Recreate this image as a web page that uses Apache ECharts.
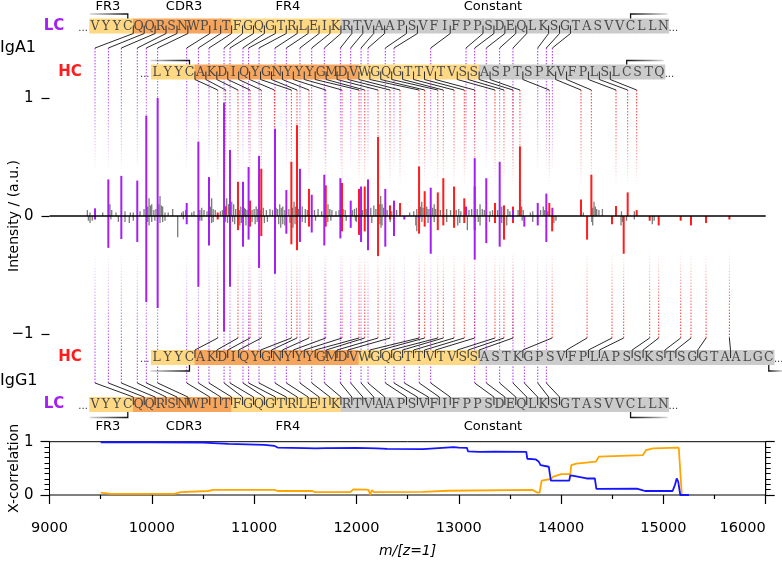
<!DOCTYPE html>
<html><head><meta charset="utf-8">
<script src="https://cdn.jsdelivr.net/npm/echarts@6/dist/echarts.min.js"></script>
<style>html,body{margin:0;padding:0;background:#fff}#c{width:782px;height:563px}</style>
</head><body><div id="c"></div><script>
// ---------------- DATA ----------------
const lcSeq  = 'VYYCQQRSNWPITFGQGTRLEIKRTVAAPSVFIFPPSDEQLKSGTASVVCLLN';
const hcSeqA = 'LYYCAKDIQYGNYYYGMDVWGQGTTVTVSSASPTSPKVFPLSLCSTQ';
const hcSeqG = 'LYYCAKDIQYGNYYYGMDVWGQGTTVTVSSASTKGPSVFPLAPSSKSTSGGTAALGC';
// region boundaries (first index of each region): FR3, CDR3, FR4, Constant
const lcRegionStarts = [0, 4, 13, 23];
const hcRegionStarts = [0, 4, 19, 30];
const regionNames = ['FR3', 'CDR3', 'FR4', 'Constant'];
const xTicks = [9000, 10000, 11000, 12000, 13000, 14000, 15000, 16000];

// [m/z, intensity, cleavage after residue index]
const lcTop = [[9445,0.065,3],[9575,0.31,4],[9702,0.34,5],[9858,0.30,6],[9946,0.85,7],[10057,1.0,8],[10341,0.11,10],[10455,0.63,11],[10559,0.33,12],[10706,0.96,13],[10764,0.56,14],[10891,0.29,15],[10946,0.415,16],[11048,0.51,17],[11204,0.74,18],[11315,0.22,19],[11448,0.40,20],[11563,0.18,21],[11686,0.35,22],[11843,0.32,23],[11944,0.13,24],[12045,0.25,25],[12113,0.31,26],[12282,0.23,28],[12367,0.13,29],[12726,0.24,32],[13071,0.08,35],[13156,0.49,36],[13269,0.32,37],[13400,0.46,38],[13530,0.05,39],[13772,0.11,41],[13856,0.19,42],[13915,0.07,43]];
const lcBot = [[9445,-0.03,3],[9575,-0.27,4],[9702,-0.195,5],[9858,-0.22,6],[9946,-0.73,7],[10057,-0.78,8],[10341,-0.07,10],[10455,-0.60,11],[10559,-0.25,12],[10706,-0.98,13],[10764,-0.60,14],[10891,-0.26,15],[10946,-0.20,16],[11048,-0.44,17],[11204,-0.49,18],[11315,-0.15,19],[11448,-0.22,20],[11563,-0.14,21],[11686,-0.25,22],[11843,-0.19,23],[11944,-0.10,24],[12045,-0.22,25],[12113,-0.29,26],[12282,-0.26,28],[12367,-0.17,29],[12468,-0.03,30],[12614,-0.02,31],[12726,-0.32,32],[13156,-0.37,36],[13269,-0.23,37],[13400,-0.26,38],[13530,-0.03,39],[13641,-0.09,40],[13772,-0.08,41],[13856,-0.22,42]];
const hcTop = [[10644,0.03,3],[10722,0.08,4],[10842,0.29,5],[10960,0.13,6],[11070,0.40,7],[11198,0.0,8],[11364,0.46,9],[11419,0.77,10],[11536,0.23,11],[11700,0.26,12],[11859,0.28,13],[12025,0.23,14],[12081,0.25,15],[12211,0.67,16],[12328,0.09,17],[12426,0.11,18],[12612,0.42,19],[12667,0.21,20],[12795,0.20,21],[12849,0.32,22],[12954,0.25,23],[13054,0.15,24],[13156,0.25,25],[13354,0.11,27],[13442,0.09,28],[13530,0.08,29],[13598,0.59,30],[13885,0.11,33],[14195,0.14,36],[14296,0.35,37],[14537,0.085,39],[14651,0.20,40],[14739,0.05,41]];
const hcBot = [[10644,-0.03,3],[10842,-0.12,5],[10960,-0.09,6],[11070,-0.17,7],[11364,-0.24,9],[11419,-0.29,10],[11536,-0.09,11],[11700,-0.09,12],[11859,-0.13,13],[12025,-0.16,14],[12081,-0.13,15],[12211,-0.34,16],[12328,-0.03,17],[12612,-0.15,19],[12667,-0.09,20],[12795,-0.12,21],[12849,-0.08,22],[12954,-0.10,23],[13054,-0.06,24],[13156,-0.12,25],[13354,-0.06,27],[13442,-0.20,28],[13530,-0.06,29],[13913,-0.13,33],[14254,-0.20,37],[14498,-0.07,39],[14612,-0.32,40],[14866,-0.04,43],[14954,-0.08,44],[15169,-0.04,46],[15270,-0.08,47],[15417,-0.06,49],[15645,-0.03,52]];
const noiseTop = [[9370,0.05],[9396,0.03],[9520,0.03],[9591,0.1],[9608,0.05],[9650,0.03],[9738,0.04],[9790,0.03],[9819,0.03],[9885,0.04],[9924,0.06],[9960,0.08],[9973,0.15],[9987,0.09],[9999,0.1],[10020,0.05],[10040,0.06],[10070,0.1],[10080,0.17],[10093,0.09],[10106,0.08],[10129,0.03],[10160,0.03],[10204,0.06],[10292,0.03],[10308,0.04],[10330,0.05],[10390,0.03],[10412,0.04],[10470,0.05],[10488,0.07],[10510,0.05],[10540,0.04],[10575,0.08],[10585,0.15],[10600,0.06],[10620,0.05],[10670,0.04],[10690,0.05],[10715,0.09],[10732,0.15],[10750,0.1],[10781,0.12],[10800,0.1],[10820,0.06],[10855,0.05],[10870,0.08],[10905,0.07],[10915,0.06],[10930,0.05],[10980,0.05],[11000,0.06],[11020,0.08],[11035,0.06],[11060,0.05],[11090,0.07],[11120,0.05],[11155,0.06],[11180,0.05],[11215,0.07],[11230,0.06],[11250,0.1],[11265,0.07],[11280,0.08],[11300,0.05],[11340,0.06],[11375,0.07],[11390,0.12],[11405,0.08],[11435,0.06],[11470,0.08],[11500,0.06],[11520,0.05],[11590,0.05],[11625,0.06],[11660,0.04],[11722,0.1],[11740,0.06],[11760,0.05],[11800,0.04],[11830,0.05],[11870,0.06],[11890,0.05],[11960,0.05],[11980,0.06],[12000,0.07],[12060,0.05],[12095,0.06],[12140,0.07],[12170,0.09],[12190,0.06],[12225,0.1],[12237,0.17],[12250,0.1],[12265,0.07],[12300,0.05],[12345,0.04],[12393,0.05],[12520,0.03],[12560,0.04],[12590,0.06],[12625,0.08],[12638,0.12],[12650,0.07],[12687,0.08],[12700,0.06],[12720,0.06],[12745,0.07],[12760,0.1],[12775,0.06],[12820,0.05],[12882,0.06],[12920,0.05],[12975,0.05],[13000,0.06],[13020,0.04],[13100,0.05],[13126,0.06],[13180,0.06],[13208,0.1],[13230,0.06],[13250,0.05],[13306,0.04],[13330,0.05],[13380,0.05],[13420,0.08],[13480,0.06],[13500,0.04],[13580,0.05],[13615,0.08],[13630,0.05],[13700,0.03],[13723,0.04],[13800,0.05],[13826,0.08],[13840,0.05],[13870,0.04],[14218,0.03],[14310,0.07],[14322,0.12],[14335,0.08],[14348,0.06],[14370,0.05],[14404,0.06],[14590,0.04],[14716,0.04]];
const noiseBot = [[9380,-0.04],[9396,-0.06],[9418,-0.04],[9600,-0.03],[9673,-0.05],[9738,-0.05],[9780,-0.06],[9819,-0.04],[9960,-0.05],[9973,-0.08],[9999,-0.05],[10030,-0.04],[10080,-0.06],[10106,-0.05],[10129,-0.04],[10253,-0.18],[10308,-0.03],[10470,-0.04],[10488,-0.04],[10585,-0.06],[10600,-0.05],[10720,-0.05],[10740,-0.06],[10790,-0.05],[10810,-0.07],[10860,-0.08],[10875,-0.06],[10920,-0.08],[10980,-0.05],[11010,-0.07],[11030,-0.05],[11100,-0.06],[11130,-0.05],[11240,-0.07],[11260,-0.1],[11280,-0.07],[11300,-0.08],[11350,-0.06],[11380,-0.1],[11400,-0.07],[11470,-0.05],[11500,-0.06],[11600,-0.04],[11720,-0.05],[11750,-0.04],[11900,-0.04],[11990,-0.04],[12000,-0.05],[12150,-0.06],[12230,-0.07],[12240,-0.1],[12250,-0.08],[12330,-0.05],[12580,-0.08],[12590,-0.13],[12640,-0.05],[12700,-0.06],[12760,-0.05],[12882,-0.05],[12990,-0.08],[13010,-0.06],[13084,-0.12],[13190,-0.05],[13208,-0.08],[13300,-0.05],[13420,-0.06],[13469,-0.08],[13620,-0.04],[13723,-0.05],[13930,-0.06],[13950,-0.04],[14300,-0.05],[14309,-0.08],[14586,-0.08],[14600,-0.05],[14640,-0.04],[14716,-0.03],[14892,-0.07],[14910,-0.04]];
const xcorrIgA = [[9500,0.99],[10000,0.99],[10500,0.985],[10600,0.975],[10750,0.96],[10760,0.95],[11100,0.94],[11200,0.92],[11230,0.89],[11500,0.88],[11600,0.875],[11700,0.88],[12000,0.885],[12200,0.875],[12300,0.865],[12650,0.86],[12660,0.89],[12950,0.9],[13000,0.89],[13080,0.885],[13090,0.82],[13200,0.81],[13350,0.815],[13660,0.81],[13670,0.68],[13750,0.67],[13760,0.64],[13780,0.63],[13800,0.56],[13880,0.53],[13895,0.53],[13900,0.27],[14080,0.27],[14090,0.37],[14110,0.365],[14120,0.34],[14250,0.31],[14330,0.31],[14345,0.115],[14740,0.12],[14750,0.09],[14800,0.085],[14820,0.075],[15090,0.075],[15115,0.2],[15130,0.31],[15145,0.25],[15165,0],[15250,0]];
const xcorrIgG = [[9500,0.045],[9600,0.02],[10220,0.02],[10280,0.055],[10550,0.075],[10600,0.095],[11200,0.095],[11230,0.075],[11570,0.075],[11590,0.055],[11940,0.055],[11970,0.105],[12100,0.1],[12120,0.09],[12135,0],[12150,0.09],[12170,0.055],[12650,0.06],[12900,0.08],[13720,0.095],[13770,0.045],[13790,0.045],[13810,0.27],[13900,0.3],[13920,0.34],[14000,0.39],[14090,0.39],[14100,0.56],[14150,0.59],[14340,0.625],[14370,0.72],[14800,0.75],[14830,0.84],[14900,0.875],[15150,0.89],[15165,0.89],[15180,0]];

// ---------------- LAYOUT / STYLE ----------------
const FONT = 'DejaVu Sans';
const PURPLE = '#a51ff2', RED = '#ff1c1c', GRAY = '#7a7a7a';
const REGION_COLORS = ['#ffd884', '#f6a55c', '#ffd884', '#cbcbcb'];
const SP = 10.93, LC_X0 = 95, HC_X0 = 156.7;
const ROW = {lcTop: 18.5, hcTop: 64.5, hcBot: 350, lcBot: 397}; // box tops
const BOXH = 15;

const chart = echarts.init(document.getElementById('c'), null, {renderer: 'canvas', width: 782, height: 563});

function regionOf(i, starts) { let r = 0; for (let k = 0; k < starts.length; k++) if (i >= starts[k]) r = k; return r; }

const G = [];
function txt(text, x, y, opt) {
  opt = opt || {};
  G.push({type: 'text', z: opt.z || 6, silent: true, style: {
    text, x, y, fill: opt.color || '#000',
    font: (opt.style || 'normal') + ' ' + (opt.weight || 'normal') + ' ' + (opt.size || 13) + 'px ' + (opt.family || FONT),
    align: opt.align || 'center', verticalAlign: 'middle', textAlign: opt.align || 'center', textVerticalAlign: 'middle'}});
}
function poly(points, stroke, w, z) {
  G.push({type: 'polyline', z: z || 6, silent: true, shape: {points}, style: {stroke, lineWidth: w || 1.2, fill: null}});
}
function seqRow(seq, starts, x0, top) {
  for (let i = 0; i < seq.length; i++) {
    const cx = x0 + SP * i;
    G.push({type: 'rect', z: 5, silent: true, shape: {x: cx - SP / 2 - 0.3, y: top, width: SP + 0.6, height: BOXH},
      style: {fill: REGION_COLORS[regionOf(i, starts)]}});
    txt(seq[i], cx, top + BOXH / 2 + 0.5, {size: 12.5, family: 'DejaVu Serif', color: '#4a4a4a'});
  }
  txt('...', x0 - SP - 1, top + BOXH / 2 + 2, {size: 10, color: '#333'});
  txt('...', x0 + SP * seq.length - 1, top + BOXH / 2 + 2, {size: 10, color: '#333'});
}
seqRow(lcSeq, lcRegionStarts, LC_X0, ROW.lcTop);
seqRow(hcSeqA, hcRegionStarts, HC_X0, ROW.hcTop);
seqRow(hcSeqG, hcRegionStarts, HC_X0, ROW.hcBot);
seqRow(lcSeq, lcRegionStarts, LC_X0, ROW.lcBot);

// chain labels
txt('LC', 54, 26, {color: PURPLE, weight: 'bold', size: 15});
txt('HC', 70, 72, {color: RED, weight: 'bold', size: 15});
txt('HC', 70, 357.5, {color: RED, weight: 'bold', size: 15});
txt('LC', 54, 404.5, {color: PURPLE, weight: 'bold', size: 15});
txt('IgA1', 0, 48, {size: 16, align: 'left'});
txt('IgG1', 0, 381, {size: 16, align: 'left'});
// region labels
const regionLabelX = [108, 184, 288, 493];
regionNames.forEach((n, k) => { txt(n, regionLabelX[k], 7, {size: 13}); txt(n, regionLabelX[k], 427, {size: 13}); });

// disulfide brackets on cysteines
function bracket(cx, yEdge, yLine, dir, len) {
  const grad = new echarts.graphic.LinearGradient(cx, 0, cx + dir * len, 0, [{offset: 0, color: '#111'}, {offset: 1, color: 'rgba(0,0,0,0.15)'}], true);
  poly([[cx, yEdge], [cx, yLine], [cx + dir * len, yLine]], grad, 1.3, 6);
}
bracket(LC_X0 + SP * lcSeq.indexOf('C'), ROW.lcTop, 14, -1, 38);
bracket(LC_X0 + SP * lcSeq.lastIndexOf('C'), ROW.lcTop, 14, 1, 37);
bracket(HC_X0 + SP * hcSeqA.indexOf('C'), ROW.hcTop, 60.5, -1, 39);
bracket(HC_X0 + SP * hcSeqA.lastIndexOf('C'), ROW.hcTop, 60.5, 1, 37);
bracket(HC_X0 + SP * hcSeqG.indexOf('C'), ROW.hcBot + BOXH, 371, -1, 39);
bracket(HC_X0 + SP * hcSeqG.lastIndexOf('C'), ROW.hcBot + BOXH, 371, 1, 14);
bracket(LC_X0 + SP * lcSeq.indexOf('C'), ROW.lcBot + BOXH, 417.5, -1, 38);
bracket(LC_X0 + SP * lcSeq.lastIndexOf('C'), ROW.lcBot + BOXH, 417.5, 1, 37);

// ---------------- SERIES HELPERS ----------------
function sticks(data, color, width, z) {
  return {type: 'custom', xAxisIndex: 0, yAxisIndex: 0, z, silent: true, data,
    renderItem: (p, api) => {
      const a = api.coord([api.value(0), 0]), b = api.coord([api.value(0), api.value(1)]);
      return {type: 'line', shape: {x1: a[0], y1: a[1], x2: b[0], y2: b[1]}, style: {stroke: color, lineWidth: width}};
    }};
}
function rgba(hex, a) { const n = parseInt(hex.slice(1), 16); return 'rgba(' + (n >> 16) + ',' + ((n >> 8) & 255) + ',' + (n & 255) + ',' + a + ')'; }
function dotted(data, color, yStart, yFade) {
  return {type: 'custom', xAxisIndex: 0, yAxisIndex: 0, z: 1, silent: true, data,
    renderItem: (p, api) => {
      const x = api.coord([api.value(0), 0])[0];
      const g = new echarts.graphic.LinearGradient(0, yStart, 0, yFade,
        [{offset: 0, color: rgba(color, 0.95)}, {offset: 0.45, color: rgba(color, 0.7)}, {offset: 1, color: rgba(color, 0)}], true);
      return {type: 'line', shape: {x1: x, y1: yStart, x2: x, y2: yFade}, style: {stroke: g, lineWidth: 1, lineDash: [1.5, 1.5]}};
    }};
}
// connector from cleavage site in the sequence box to the fragment's m/z
function connectors(data, x0, yIn, yEdge, yEnd) {
  return {type: 'custom', xAxisIndex: 0, yAxisIndex: 0, z: 7, silent: true, data,
    renderItem: (p, api) => {
      const x = api.coord([api.value(0), 0])[0];
      const xb = x0 + SP * (api.value(2) + 0.5);
      return {type: 'polyline', shape: {points: [[xb, yIn], [xb, yEdge], [x, yEnd]]}, style: {stroke: '#2a2a2a', lineWidth: 1, fill: null}};
    }};
}

const axisText = {color: '#000', fontFamily: FONT, fontSize: 15};
const option = {
  animation: false,
  backgroundColor: '#fff',
  grid: [
    {left: 49.5, top: 98, width: 716.2, height: 236, containLabel: false, outerBoundsMode: 'none'},
    {left: 49.5, top: 441.7, width: 716.2, height: 53.3, containLabel: false, outerBoundsMode: 'none',
      show: true, borderColor: '#000', borderWidth: 1, backgroundColor: 'transparent'}
  ],
  xAxis: [
    {gridIndex: 0, type: 'value', min: xTicks[0], max: xTicks[xTicks.length - 1], show: false},
    {gridIndex: 1, type: 'value', min: xTicks[0], max: xTicks[xTicks.length - 1], interval: 1000, offset: 12,
      axisLine: {show: false}, axisTick: {show: true, length: 9, lineStyle: {color: '#000', width: 1.2}},
      minorTick: {show: true, splitNumber: 2, length: 4, lineStyle: {color: '#000', width: 1.2}},
      splitLine: {show: false},
      axisLabel: Object.assign({margin: 14, alignMaxLabel: 'right', formatter: v => String(v)}, axisText, {fontSize: 14.5}),
      name: 'm/[z=1]', nameLocation: 'middle', nameGap: 37, nameMoveOverlap: false,
      nameTextStyle: {fontStyle: 'italic', fontSize: 14, color: '#000', fontFamily: FONT}}
  ],
  yAxis: [
    {gridIndex: 0, type: 'value', min: -1, max: 1, interval: 1, axisLine: {show: false},
      axisTick: {show: true, length: 8, lineStyle: {color: '#000', width: 1.2}}, splitLine: {show: false},
      axisLabel: Object.assign({margin: 16, formatter: v => v < 0 ? '\u2212' + Math.abs(v) : String(v)}, axisText),
      name: 'Intensity / (a.u.)', nameLocation: 'middle', nameGap: 28, nameMoveOverlap: false,
      nameTextStyle: {fontSize: 14, color: '#000', fontFamily: FONT}},
    {gridIndex: 1, type: 'value', min: 0, max: 1, interval: 1, axisLine: {show: true, lineStyle: {color: '#000'}},
      axisTick: {show: true, length: 9, lineStyle: {color: '#000', width: 1.2}},
      minorTick: {show: true, splitNumber: 10, length: 5, lineStyle: {color: '#000'}},
      splitLine: {show: false}, minorSplitLine: {show: false},
      axisLabel: Object.assign({margin: 16}, axisText),
      name: 'X-correlation', nameLocation: 'middle', nameGap: 28, nameMoveOverlap: false,
      nameTextStyle: {fontSize: 14, color: '#000', fontFamily: FONT, padding: [0, 0, 0, 0]}},
    {gridIndex: 1, type: 'value', position: 'right', min: 0, max: 1, interval: 1, axisLine: {show: true, lineStyle: {color: '#000'}},
      axisTick: {show: true, length: 9, lineStyle: {color: '#000', width: 1.2}},
      minorTick: {show: true, splitNumber: 10, length: 5, lineStyle: {color: '#000'}},
      splitLine: {show: false}, axisLabel: {show: false}}
  ],
  graphic: {elements: G},
  series: [
    dotted(lcTop, PURPLE, 48, 172),
    dotted(hcTop, RED, 90, 186),
    dotted(hcBot, RED, 338, 252),
    dotted(lcBot, PURPLE, 383, 252),
    sticks(noiseTop, GRAY, 1.3, 2),
    sticks(noiseBot, GRAY, 1.3, 2),
    sticks(hcTop, RED, 2, 3),
    sticks(hcBot, RED, 2, 3),
    sticks(lcTop, PURPLE, 2, 3),
    sticks(lcBot, PURPLE, 2, 3),
    {type: 'line', xAxisIndex: 0, yAxisIndex: 0, z: 4, silent: true, showSymbol: false, symbol: 'none',
      data: [[xTicks[0], 0], [xTicks[xTicks.length - 1], 0]], lineStyle: {color: '#000', width: 1.3}},
    connectors(lcTop, LC_X0, ROW.lcTop + 7, ROW.lcTop + BOXH, 48),
    connectors(hcTop, HC_X0, ROW.hcTop + 7, ROW.hcTop + BOXH, 90),
    connectors(hcBot, HC_X0, ROW.hcBot + 8, ROW.hcBot, 338),
    connectors(lcBot, LC_X0, ROW.lcBot + 8, ROW.lcBot, 383),
    {type: 'line', xAxisIndex: 1, yAxisIndex: 1, z: 3, silent: true, showSymbol: false, symbol: 'none',
      data: xcorrIgG, lineStyle: {color: '#ffa500', width: 1.8}},
    {type: 'line', xAxisIndex: 1, yAxisIndex: 1, z: 4, silent: true, showSymbol: false, symbol: 'none',
      data: xcorrIgA, lineStyle: {color: '#1515ff', width: 1.8}}
  ]
};
chart.setOption(option);
</script></body></html>
